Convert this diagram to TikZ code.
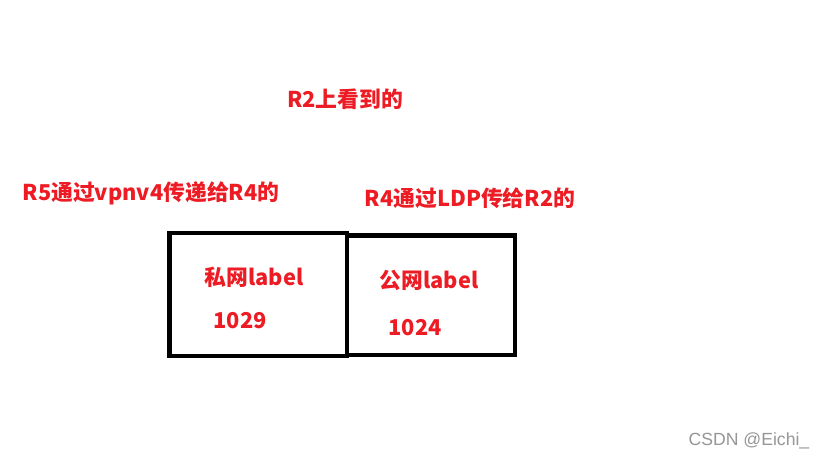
\documentclass[tikz,border=0pt]{standalone}
\usepackage{fontspec}
\usepackage{xcolor}
\newfontfamily\cjk{Noto Sans CJK SC}
\newfontfamily\wmfont{Liberation Sans}
\definecolor{paintred}{RGB}{237,28,36}
\definecolor{wmgray}{RGB}{150,150,150}
\usetikzlibrary{positioning}

\begin{document}
\begin{tikzpicture}[x=1pt,y=-1pt,
  redtxt/.style={text=paintred,font=\cjk\bfseries\fontsize{21.8}{24}\selectfont,inner sep=0pt},
  frame/.style={line width=4.5pt,line join=miter}]
\useasboundingbox[fill=white] (0,0) rectangle (827,464);
% the two label fields
\draw[frame](169.5,233)rectangle(347,356);
\draw[frame](347,235.5)rectangle(515,355);
% texts
\node[redtxt] (seen) at (345,99) {R2上看到的};
\node[redtxt] (fromR5) at (151,193) {R5通过vpnv4传递给R4的};
\node[redtxt] (fromR4) at (470,198) {R4通过LDP传给R2的};
\node[redtxt] (privlbl) at (254,277) {私网label};
\node[redtxt] (privnum) at (240,321) {1029};
\node[redtxt] (publbl) at (429,280) {公网label};
\node[redtxt] (pubnum) at (415,328) {1024};
\node[text=wmgray,font=\wmfont\fontsize{17.6}{19}\selectfont,inner sep=0pt] (mark) at (749,441) {CSDN @Eichi\_};
\end{tikzpicture}
\end{document}
